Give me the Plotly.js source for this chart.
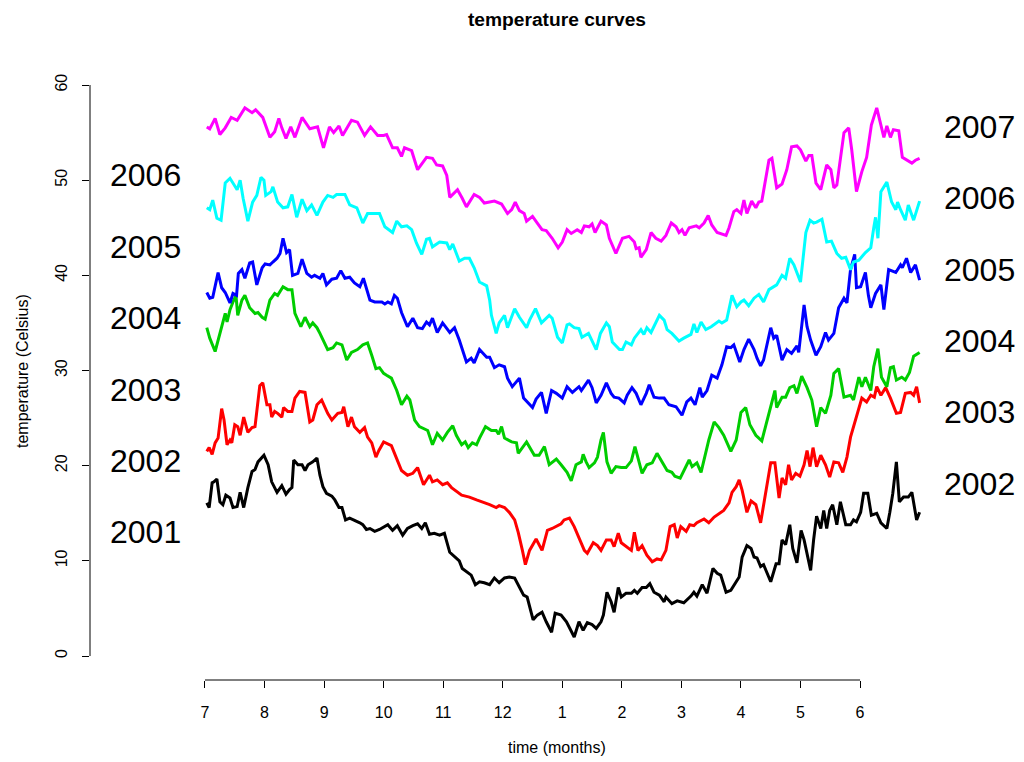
<!DOCTYPE html>
<html>
<head>
<meta charset="utf-8">
<script src="https://cdn.plot.ly/plotly-3.0.1.min.js"></script>
<style>
  html, body { margin: 0; padding: 0; background: #ffffff; }
  #chart { width: 1024px; height: 762px; }
</style>
</head>
<body>
<div id="chart"></div>
<script>
// Daily temperature curves, one season (July -> June) per year, each shifted upward.
// Time is in months since 1 July.

const monthTicks = [0, 1, 2, 3, 4, 5, 6, 7, 8, 9, 10, 11];
const monthLabels = ['7', '8', '9', '10', '11', '12', '1', '2', '3', '4', '5', '6'];
const tempTicks = [0, 10, 20, 30, 40, 50, 60];

// 2001-2002
const months2001 = [0.03,0.07,0.12,0.15,0.20,0.25,0.30,0.35,0.42,0.47,
  0.54,0.59,0.65,0.72,0.79,0.84,0.89,0.94,0.99,1.06,
  1.12,1.21,1.29,1.36,1.42,1.46,1.49,1.56,1.63,1.68,
  1.73,1.81,1.88,1.93,1.98,2.04,2.13,2.18,2.25,2.30,
  2.36,2.43,2.51,2.60,2.65,2.71,2.77,2.85,2.93,3.02,
  3.07,3.15,3.23,3.32,3.40,3.49,3.57,3.64,3.70,3.77,
  3.85,3.94,4.02,4.11,4.19,4.27,4.32,4.41,4.47,4.54,
  4.61,4.69,4.78,4.86,4.94,5.03,5.11,5.20,5.28,5.35,
  5.41,5.51,5.58,5.66,5.73,5.82,5.88,5.98,6.07,6.12,
  6.20,6.28,6.35,6.42,6.50,6.57,6.65,6.69,6.75,6.82,
  6.87,6.94,6.99,7.07,7.16,7.21,7.26,7.34,7.41,7.47,
  7.54,7.63,7.71,7.74,7.79,7.84,7.93,8.04,8.16,8.21,
  8.26,8.35,8.43,8.53,8.60,8.66,8.75,8.83,8.92,8.97,
  9.02,9.10,9.17,9.22,9.27,9.33,9.38,9.44,9.50,9.59,
  9.64,9.69,9.75,9.82,9.87,9.94,10.01,10.06,10.17,10.22,
  10.27,10.34,10.39,10.44,10.49,10.54,10.61,10.67,10.76,10.84,
  10.89,10.94,11.01,11.06,11.13,11.19,11.28,11.35,11.45,11.50,
  11.55,11.61,11.66,11.73,11.81,11.87,11.92,11.95,12.00];
const temps2001 = [16.1,15.6,18.2,18.3,18.6,16.2,15.9,16.9,16.6,15.6,
  15.7,17.2,15.6,17.7,19.4,19.6,20.4,20.8,21.1,20.1,
  18.3,17.2,17.9,17.0,17.5,17.7,20.6,20.1,20.1,19.5,
  20.1,20.4,20.8,19.0,17.8,17.1,16.8,16.4,15.6,15.6,
  14.3,14.5,14.3,14.0,13.8,13.3,13.4,13.1,13.3,13.6,
  13.8,13.2,13.7,12.7,13.4,13.7,13.9,13.4,14.0,12.8,
  12.9,12.7,12.9,10.9,10.4,10.0,9.2,8.8,8.5,7.5,
  7.8,7.7,7.5,8.2,7.7,8.2,8.3,8.2,7.2,6.4,
  6.2,3.8,4.3,4.6,3.6,2.5,4.5,4.3,3.6,3.0,
  2.0,3.6,2.7,3.5,3.3,2.9,3.6,4.3,6.7,5.7,
  4.6,7.2,6.2,6.6,6.6,6.9,6.6,7.2,7.2,7.6,
  6.7,6.4,5.7,6.2,5.9,5.5,5.8,5.6,6.3,6.7,
  6.3,7.5,6.6,9.2,8.7,8.5,6.7,6.9,7.8,8.3,
  10.4,11.6,11.3,10.4,10.3,9.4,9.6,8.7,7.8,9.7,
  9.7,12.2,11.7,13.8,11.3,9.8,13.2,12.2,9.0,12.2,
  14.7,13.4,15.3,13.4,15.3,15.9,13.8,16.2,13.8,13.8,
  14.3,14.1,15.1,17.1,17.1,14.8,15.0,14.0,13.4,15.1,
  17.1,20.4,16.2,16.7,16.7,17.2,15.6,14.3,15.1];

// 2002-2003
const months2002 = [0.03,0.07,0.12,0.17,0.22,0.28,0.32,0.37,0.42,0.45,
  0.50,0.55,0.59,0.65,0.72,0.79,0.84,0.92,0.97,1.04,
  1.09,1.12,1.17,1.22,1.29,1.32,1.39,1.46,1.51,1.59,
  1.68,1.76,1.81,1.88,1.96,2.01,2.06,2.13,2.23,2.30,
  2.33,2.40,2.46,2.51,2.60,2.68,2.73,2.80,2.87,2.92,
  3.00,3.13,3.18,3.30,3.40,3.49,3.57,3.67,3.77,3.82,
  3.90,3.99,4.07,4.14,4.31,4.44,4.56,4.66,4.78,4.89,
  4.94,5.03,5.11,5.20,5.26,5.33,5.38,5.45,5.50,5.56,
  5.66,5.75,5.83,5.92,5.98,6.03,6.12,6.20,6.28,6.37,
  6.42,6.52,6.59,6.65,6.74,6.82,6.87,6.94,6.99,7.07,
  7.16,7.21,7.27,7.34,7.42,7.51,7.59,7.66,7.74,7.81,
  7.88,7.93,7.99,8.08,8.14,8.21,8.26,8.38,8.46,8.55,
  8.63,8.71,8.80,8.85,8.92,8.97,9.02,9.10,9.17,9.25,
  9.33,9.42,9.50,9.57,9.64,9.69,9.75,9.80,9.85,9.92,
  9.99,10.06,10.11,10.16,10.21,10.27,10.34,10.42,10.49,10.56,
  10.64,10.71,10.78,10.84,10.94,11.03,11.11,11.18,11.24,11.28,
  11.35,11.43,11.51,11.61,11.68,11.76,11.85,11.90,11.95,12.00];
const temps2002 = [21.5,21.9,21.2,22.4,22.9,26.0,24.8,22.2,22.7,22.4,
  24.3,24.1,23.2,25.1,23.5,24.0,24.1,28.4,28.7,26.4,
  26.4,25.1,25.7,25.5,25.1,26.1,25.7,25.7,27.1,27.8,
  27.7,24.6,24.8,26.4,26.9,26.2,25.5,24.8,25.5,25.6,
  26.2,24.1,25.1,24.1,23.5,24.0,23.0,22.4,20.9,21.6,
  22.5,22.1,21.3,19.5,19.0,19.2,19.8,18.0,19.0,18.3,
  18.5,18.0,18.2,17.7,16.9,16.7,16.4,16.2,15.9,15.6,
  15.8,15.6,15.1,14.3,13.0,11.1,9.6,11.1,11.7,12.3,
  11.1,13.2,13.4,13.7,13.9,14.3,14.5,13.6,12.5,11.1,
  10.8,11.9,11.6,11.1,12.2,12.2,11.5,12.9,11.9,11.5,
  11.1,13.0,11.1,11.6,10.6,9.9,10.2,10.1,11.1,13.6,
  13.8,12.4,13.6,13.1,13.8,13.7,14.0,14.4,14.0,14.6,
  15.0,15.3,16.1,17.2,17.8,18.5,17.4,15.1,16.3,15.9,
  14.0,17.4,20.3,20.3,16.6,18.7,18.0,20.1,18.5,19.2,
  18.9,20.1,21.6,19.9,21.9,19.9,21.1,20.1,18.8,20.4,
  20.3,19.3,20.9,23.0,25.3,27.1,26.7,27.4,27.2,28.3,
  27.4,28.2,27.1,25.5,25.6,27.6,27.7,27.4,28.3,26.6];

// 2003-2004
const months2003 = [0.03,0.08,0.17,0.22,0.28,0.34,0.37,0.42,0.47,0.52,
  0.55,0.62,0.67,0.75,0.84,0.89,0.96,1.01,1.09,1.17,
  1.22,1.31,1.39,1.46,1.51,1.61,1.68,1.76,1.81,1.88,
  1.93,1.98,2.06,2.15,2.21,2.30,2.38,2.46,2.56,2.65,
  2.73,2.80,2.87,2.93,3.00,3.05,3.13,3.22,3.30,3.39,
  3.44,3.52,3.60,3.74,3.82,3.90,3.99,4.07,4.16,4.22,
  4.31,4.37,4.42,4.49,4.56,4.61,4.71,4.81,4.89,4.93,
  4.98,5.03,5.15,5.23,5.26,5.40,5.53,5.61,5.70,5.78,
  5.90,5.98,6.08,6.15,6.23,6.32,6.35,6.40,6.45,6.54,
  6.59,6.65,6.69,6.75,6.82,6.90,6.99,7.07,7.16,7.22,
  7.29,7.34,7.42,7.51,7.59,7.68,7.76,7.84,7.89,7.98,
  8.04,8.13,8.18,8.26,8.33,8.41,8.46,8.55,8.63,8.71,
  8.83,8.92,9.00,9.08,9.15,9.25,9.35,9.42,9.50,9.57,
  9.60,9.69,9.75,9.82,9.89,9.94,10.02,10.11,10.19,10.27,
  10.34,10.42,10.51,10.56,10.64,10.73,10.84,10.89,10.98,11.03,
  11.09,11.18,11.23,11.30,11.36,11.45,11.51,11.56,11.61,11.70,
  11.76,11.83,11.90,12.00];
const temps2003 = [34.5,33.4,32.0,33.2,34.8,36.0,35.1,36.4,37.2,37.9,
  35.8,37.4,37.9,36.6,36.0,36.1,35.6,35.4,37.4,38.1,
  37.9,38.8,38.5,38.5,36.0,34.6,35.6,34.6,35.0,34.5,
  33.9,33.2,32.2,32.4,32.9,32.7,31.1,31.9,32.2,32.7,
  32.9,31.6,30.2,30.3,29.7,29.5,29.2,27.9,26.4,27.3,
  26.9,24.8,24.1,23.7,22.2,23.4,22.7,23.5,24.2,23.2,
  22.2,22.5,21.9,22.4,22.2,22.9,24.1,23.7,23.7,23.3,
  24.1,22.9,22.5,22.4,21.3,22.5,21.1,21.1,22.0,20.1,
  20.7,20.1,19.3,18.4,20.1,20.4,21.2,20.4,19.8,20.3,
  20.9,22.7,23.5,20.4,19.2,19.9,19.8,19.8,20.5,22.0,
  20.3,19.2,20.1,20.3,21.3,20.3,19.5,19.3,18.9,18.7,
  19.5,20.6,19.9,20.3,19.3,21.3,22.7,24.6,24.0,23.2,
  21.5,22.7,25.6,26.1,24.3,23.2,22.6,24.3,26.2,27.9,
  26.1,27.2,27.2,28.2,28.4,27.6,29.4,28.2,26.9,24.1,
  26.1,25.5,27.4,29.7,30.2,27.2,27.4,26.9,29.3,28.3,
  29.3,27.9,30.4,32.3,29.3,28.3,30.3,30.4,29.0,29.3,
  29.0,29.8,31.5,31.9];

// 2004-2005
const months2004 = [0.03,0.08,0.13,0.22,0.28,0.34,0.42,0.47,0.53,0.56,
  0.62,0.67,0.75,0.80,0.87,0.96,1.01,1.09,1.14,1.21,
  1.26,1.31,1.37,1.42,1.47,1.56,1.63,1.71,1.79,1.84,
  1.93,1.98,2.04,2.13,2.21,2.28,2.35,2.43,2.51,2.60,
  2.66,2.73,2.77,2.85,2.97,3.02,3.07,3.13,3.18,3.23,
  3.30,3.40,3.49,3.57,3.65,3.72,3.77,3.82,3.90,3.99,
  4.11,4.19,4.27,4.39,4.47,4.52,4.61,4.73,4.78,4.86,
  4.94,5.03,5.08,5.16,5.28,5.35,5.45,5.50,5.56,5.65,
  5.73,5.82,5.90,6.00,6.08,6.17,6.28,6.32,6.44,6.50,
  6.57,6.65,6.74,6.82,6.87,6.95,7.04,7.09,7.17,7.24,
  7.32,7.41,7.46,7.54,7.63,7.71,7.79,7.91,8.01,8.09,
  8.16,8.23,8.31,8.35,8.43,8.51,8.60,8.68,8.76,8.83,
  8.88,8.93,8.98,9.05,9.13,9.22,9.27,9.33,9.38,9.50,
  9.55,9.60,9.69,9.77,9.85,9.94,9.97,10.06,10.11,10.17,
  10.26,10.34,10.42,10.47,10.56,10.64,10.73,10.78,10.84,10.91,
  10.94,11.01,11.09,11.14,11.18,11.26,11.35,11.40,11.48,11.60,
  11.68,11.71,11.78,11.85,11.93,12.00];
const temps2004 = [38.2,37.6,37.7,40.3,38.7,38.2,37.1,38.1,37.9,40.2,
  40.6,39.7,41.3,41.4,39.0,40.8,41.2,41.1,41.4,41.8,
  42.3,43.9,42.4,42.7,40.0,40.2,41.7,40.2,39.8,40.0,
  39.7,40.2,39.0,39.6,39.7,40.5,39.7,39.8,39.2,38.8,
  39.7,38.2,37.4,37.2,37.2,37.0,37.2,37.0,37.9,37.6,
  36.1,34.6,35.5,34.5,34.4,35.1,34.8,35.5,34.0,35.0,
  34.0,34.5,33.2,30.9,31.3,30.8,32.2,31.4,31.4,30.3,
  30.6,30.4,29.2,28.3,29.2,27.1,26.5,26.1,27.0,27.7,
  25.5,27.9,27.6,27.1,28.3,27.7,28.3,27.9,29.0,28.2,
  26.6,27.4,28.7,27.6,27.2,27.1,26.6,27.4,28.2,27.6,
  26.4,27.6,28.5,27.2,27.1,27.1,26.4,26.2,25.3,26.7,
  27.1,26.4,28.2,27.2,27.9,29.5,29.2,30.6,32.5,32.4,
  32.7,31.9,30.9,32.2,33.3,32.2,31.3,30.5,31.1,34.5,
  33.4,33.7,31.1,32.2,31.8,32.6,31.9,36.9,34.6,33.2,
  31.6,32.5,34.0,33.2,33.9,36.6,37.6,37.1,40.6,42.2,
  38.7,38.8,40.3,37.9,36.6,38.1,39.0,36.4,40.6,40.3,
  41.1,40.8,41.8,40.3,41.1,39.5];

// 2005-2006
const months2005 = [0.03,0.08,0.13,0.20,0.27,0.34,0.42,0.54,0.59,0.64,
  0.72,0.80,0.87,0.94,0.99,1.02,1.11,1.14,1.22,1.31,
  1.39,1.46,1.54,1.63,1.71,1.79,1.88,1.98,2.06,2.15,
  2.21,2.35,2.43,2.55,2.65,2.73,2.85,2.93,3.02,3.15,
  3.22,3.30,3.39,3.47,3.55,3.64,3.72,3.77,3.82,3.94,
  4.06,4.11,4.16,4.27,4.36,4.44,4.52,4.61,4.73,4.78,
  4.81,4.89,4.94,5.03,5.08,5.20,5.28,5.40,5.45,5.55,
  5.65,5.78,5.83,5.92,6.00,6.08,6.12,6.20,6.28,6.33,
  6.44,6.57,6.64,6.74,6.79,6.84,6.96,7.01,7.07,7.16,
  7.21,7.32,7.37,7.42,7.49,7.63,7.71,7.76,7.84,7.96,
  8.04,8.16,8.21,8.26,8.33,8.41,8.50,8.58,8.63,8.68,
  8.76,8.85,8.93,9.00,9.05,9.13,9.22,9.30,9.38,9.47,
  9.60,9.69,9.75,9.82,9.89,10.00,10.09,10.16,10.22,10.27,
  10.36,10.44,10.52,10.61,10.69,10.76,10.84,10.89,10.98,11.09,
  11.18,11.23,11.26,11.30,11.35,11.45,11.53,11.60,11.63,11.68,
  11.76,11.81,11.90,12.00];
const temps2005 = [47.1,46.9,47.9,46.0,45.8,49.7,50.2,49.0,50.0,48.1,
  45.7,47.7,48.4,50.3,50.0,48.4,48.8,49.3,47.7,47.1,
  47.2,48.5,46.1,48.0,46.8,47.4,46.3,47.7,48.4,48.2,
  48.5,48.5,47.4,47.1,45.5,46.5,46.5,46.5,45.1,44.5,
  45.7,45.1,45.2,44.8,43.4,42.2,43.8,43.9,43.0,43.5,
  43.4,42.7,43.3,41.5,41.8,41.8,40.8,39.3,38.9,37.4,
  35.8,33.9,35.0,35.8,34.5,36.5,35.6,34.5,35.3,36.5,
  35.0,35.8,35.5,33.5,32.9,34.8,34.9,34.5,34.4,33.5,
  33.9,32.2,33.9,35.0,34.6,33.0,32.2,32.2,33.0,32.7,
  33.4,34.3,33.8,34.5,34.0,35.8,35.3,34.3,33.9,33.1,
  33.4,33.8,34.9,34.0,35.1,34.3,34.6,35.0,35.2,35.0,
  35.3,37.9,36.7,37.2,37.4,36.8,37.6,38.0,37.2,38.5,
  39.0,40.0,39.7,41.8,41.1,39.3,44.5,45.8,45.5,45.6,
  45.9,43.5,43.6,42.3,41.8,41.9,40.6,41.4,41.6,42.4,
  42.9,45.0,46.1,43.9,48.8,49.8,47.7,46.9,47.7,46.9,
  45.8,47.4,45.8,47.8];

// 2006-2007
const months2006 = [0.03,0.08,0.17,0.25,0.34,0.44,0.54,0.67,0.79,0.85,
  0.97,1.09,1.17,1.24,1.29,1.36,1.44,1.51,1.63,1.76,
  1.89,1.99,2.09,2.16,2.25,2.31,2.46,2.56,2.68,2.78,
  2.90,3.00,3.05,3.15,3.23,3.30,3.35,3.47,3.57,3.72,
  3.82,3.89,3.99,4.06,4.11,4.24,4.32,4.39,4.52,4.61,
  4.69,4.86,4.98,5.08,5.15,5.21,5.28,5.36,5.40,5.50,
  5.58,5.66,5.73,5.83,5.93,6.00,6.08,6.15,6.25,6.32,
  6.37,6.45,6.50,6.55,6.65,6.74,6.79,6.90,7.01,7.12,
  7.21,7.24,7.29,7.32,7.41,7.49,7.57,7.66,7.74,7.83,
  7.91,7.96,8.01,8.06,8.13,8.25,8.30,8.38,8.45,8.51,
  8.60,8.68,8.75,8.80,8.88,8.93,9.00,9.05,9.10,9.18,
  9.25,9.30,9.35,9.47,9.52,9.60,9.69,9.77,9.85,9.94,
  10.00,10.09,10.14,10.19,10.26,10.34,10.44,10.51,10.56,10.61,
  10.73,10.81,10.86,10.94,11.03,11.11,11.19,11.28,11.35,11.40,
  11.45,11.51,11.56,11.65,11.71,11.78,11.87,11.93,12.00];
const temps2006 = [55.6,55.4,56.5,54.8,55.5,56.6,56.3,57.6,57.1,57.4,
  56.6,54.5,55.1,56.5,55.5,54.4,55.6,54.5,56.6,55.4,
  55.6,53.4,55.6,55.0,55.7,54.7,56.3,56.1,54.7,55.6,
  54.7,54.7,54.8,53.4,53.4,52.5,53.4,53.1,51.1,52.4,
  52.3,51.6,51.5,50.5,48.2,49.0,48.1,47.2,48.5,48.2,
  47.6,47.8,47.5,46.5,46.9,47.7,46.8,46.5,45.7,46.2,
  45.5,44.8,44.7,43.9,42.9,43.5,44.8,44.4,44.8,44.5,
  45.2,45.1,45.4,44.5,45.7,45.3,43.9,42.3,43.9,44.1,
  43.5,42.8,42.9,41.9,42.7,44.5,43.9,43.6,44.2,45.5,
  45.1,44.5,44.8,44.2,45.0,45.2,45.0,45.5,46.3,45.3,
  44.5,44.3,44.2,45.0,46.7,46.9,46.5,47.9,46.5,47.8,
  47.1,47.7,47.8,52.1,52.3,49.2,49.6,51.1,53.5,53.6,
  53.2,52.0,52.6,52.6,49.7,49.0,51.6,51.1,49.2,49.5,
  55.0,55.5,53.2,48.8,50.9,52.4,55.8,57.6,55.8,54.5,
  55.7,54.5,55.3,55.2,52.4,52.1,51.8,52.1,52.3];

const seasonMonths = [months2001, months2002, months2003, months2004, months2005, months2006];
const seasonTemps = [temps2001, temps2002, temps2003, temps2004, temps2005, temps2006];
const seasonNames = ['2001-2002', '2002-2003', '2003-2004', '2004-2005', '2005-2006', '2006-2007'];
const seasonColors = ['#000000', '#ff0000', '#00cd00', '#0000ff', '#00ffff', '#ff00ff'];

// Year tags at the start (left) and end (right) of each curve
const startYears = ['2001', '2002', '2003', '2004', '2005', '2006'];
const startTagTemps = [13.0, 20.5, 28.0, 35.5, 43.0, 50.5];
const endYears = ['2002', '2003', '2004', '2005', '2006', '2007'];
const endTagTemps = [18.1, 25.6, 33.1, 40.6, 48.1, 55.6];

const FONT = 'Liberation Sans, Arial, Helvetica, sans-serif';

const traces = seasonMonths.map((m, i) => ({
  type: 'scatter',
  mode: 'lines',
  name: seasonNames[i],
  x: m,
  y: seasonTemps[i],
  line: { color: seasonColors[i], width: 3 },
  hoverinfo: 'skip'
}));

const annotations = [];
startYears.forEach((t, i) => annotations.push({
  text: t, x: -1, y: startTagTemps[i], xref: 'x', yref: 'y',
  showarrow: false, xanchor: 'center', yanchor: 'middle',
  font: { family: FONT, size: 32, color: '#000000' }
}));
endYears.forEach((t, i) => annotations.push({
  text: t, x: 13, y: endTagTemps[i], xref: 'x', yref: 'y',
  showarrow: false, xanchor: 'center', yanchor: 'middle',
  font: { family: FONT, size: 32, color: '#000000' }
}));
annotations.push({
  text: 'time (months)', xref: 'paper', yref: 'paper', x: 0.5, y: -0.110,
  showarrow: false, xanchor: 'center', yanchor: 'middle',
  font: { family: FONT, size: 16, color: '#000000' }
});
annotations.push({
  text: 'temperature (Celsius)', xref: 'paper', yref: 'paper', x: -0.0728, y: 0.5,
  textangle: -90, showarrow: false, xanchor: 'center', yanchor: 'middle',
  font: { family: FONT, size: 16, color: '#000000' }
});

const layout = {
  width: 1024,
  height: 762,
  margin: { l: 90, r: 0, t: 62, b: 82, pad: 0 },
  paper_bgcolor: '#ffffff',
  plot_bgcolor: '#ffffff',
  showlegend: false,
  font: { family: FONT, size: 16, color: '#000000' },
  title: {
    text: 'temperature curves',
    xref: 'paper', x: 0.5, xanchor: 'center',
    yref: 'container', y: 0.975, yanchor: 'middle',
    font: { family: FONT, size: 19.2, weight: 'bold', color: '#000000' }
  },
  xaxis: {
    range: [-1.931, 13.753],
    tickmode: 'array',
    tickvals: monthTicks,
    ticktext: monthLabels,
    ticks: 'outside', ticklen: 7, tickwidth: 1, tickcolor: '#000000',
    ticklabelstandoff: 11,
    showline: false, showgrid: false, zeroline: false,
    tickfont: { family: FONT, size: 16, color: '#000000' },
    fixedrange: true
  },
  yaxis: {
    range: [-2.52, 62.42],
    tickmode: 'array',
    tickvals: tempTicks,
    tickangle: -90,
    ticks: 'outside', ticklen: 7, tickwidth: 1, tickcolor: '#000000',
    ticklabelstandoff: 9,
    showline: false, showgrid: false, zeroline: false,
    tickfont: { family: FONT, size: 16, color: '#000000' },
    fixedrange: true
  },
  shapes: [
    // axis lines run only between the first and last tick
    { type: 'line', xref: 'x', yref: 'paper', x0: monthTicks[0], x1: monthTicks[monthTicks.length - 1], y0: 0, y1: 0,
      line: { color: '#000000', width: 1 } },
    { type: 'line', xref: 'paper', yref: 'y', x0: 0, x1: 0, y0: tempTicks[0], y1: tempTicks[tempTicks.length - 1],
      line: { color: '#000000', width: 1 } }
  ],
  annotations: annotations
};

Plotly.newPlot('chart', traces, layout, { staticPlot: true, displayModeBar: false });
</script>
</body>
</html>
